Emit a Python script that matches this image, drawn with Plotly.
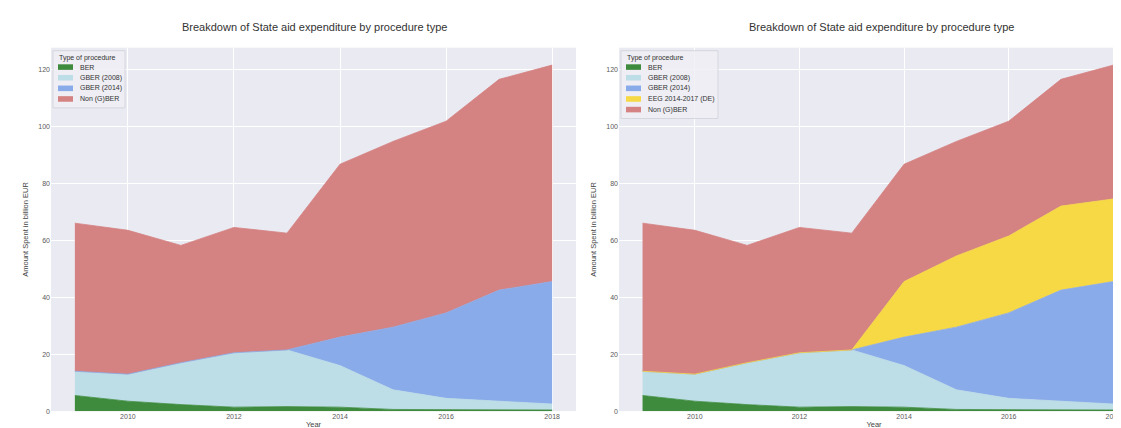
import plotly.graph_objects as go

years = [2009, 2010, 2011, 2012, 2013, 2014, 2015, 2016, 2017, 2018]
ber = [5.5, 3.5, 2.3, 1.4, 1.6, 1.4, 0.6, 0.5, 0.4, 0.4]
gber2008 = [8.5, 9.5, 14.7, 19.1, 19.9, 14.6, 6.9, 4.0, 3.1, 2.1]
gber2014 = [0, 0, 0, 0, 0, 10.0, 22.0, 30.0, 39.0, 43.0]
eeg = [0, 0, 0, 0, 0, 19.5, 25.0, 27.0, 29.5, 29.0]
total = [66.0, 63.5, 58.2, 64.5, 62.5, 86.7, 94.7, 101.8, 116.5, 121.5]

base_top = [a + b + c for a, b, c in zip(ber, gber2008, gber2014)]
non_left = [t - b for t, b in zip(total, base_top)]
non_right = [t - b - e for t, b, e in zip(total, base_top, eeg)]

legend_title = "Type of procedure"
colors = {
    "BER": "#3e8b3e",
    "GBER (2008)": "#bddde7",
    "GBER (2014)": "#8aabe9",
    "EEG 2014-2017 (DE)": "#f6d944",
    "Non (G)BER": "#d48282",
}

left_series = [("BER", ber), ("GBER (2008)", gber2008), ("GBER (2014)", gber2014), ("Non (G)BER", non_left)]
right_series = [("BER", ber), ("GBER (2008)", gber2008), ("GBER (2014)", gber2014),
                ("EEG 2014-2017 (DE)", eeg), ("Non (G)BER", non_right)]

fig = go.Figure()
for nm, vals in left_series:
    fig.add_trace(go.Scatter(x=years, y=vals, name=nm, stackgroup="left", mode="lines",
                             line=dict(color=colors[nm], width=0.8), fillcolor=colors[nm],
                             xaxis="x", yaxis="y", showlegend=False))
for nm, vals in right_series:
    fig.add_trace(go.Scatter(x=years, y=vals, name=nm, stackgroup="right", mode="lines",
                             line=dict(color=colors[nm], width=0.8), fillcolor=colors[nm],
                             xaxis="x2", yaxis="y2", showlegend=False))

W, H = 1121, 428
FONT = "Liberation Sans, Arial, sans-serif"
bg = "#eaeaf2"
tickfont = dict(family=FONT, size=7, color="#5a5a5a")
axtitlefont = dict(family=FONT, size=7.5, color="#444444")

xcommon = dict(tickvals=[2010, 2012, 2014, 2016, 2018], showgrid=True, gridcolor="white",
               gridwidth=1, zeroline=False, showline=False, ticks="", tickfont=tickfont,
               ticklabeloverflow="allow",
               title=dict(text="Year", font=axtitlefont, standoff=2))
ycommon = dict(range=[0, 127.6], tickvals=[0, 20, 40, 60, 80, 100, 120], showgrid=True,
               gridcolor="white", gridwidth=1, zeroline=False, showline=False, ticks="",
               tickfont=tickfont, title=dict(text="Amount Spent in billion EUR", font=axtitlefont, standoff=8))

ydom = [1 - 406 / H, 1 - 40 / H]
fig.update_layout(
    width=W, height=H,
    margin=dict(l=0, r=0, t=0, b=0),
    paper_bgcolor="white",
    plot_bgcolor=bg,
    showlegend=False,
    xaxis=dict(domain=[43 / W, 568 / W], range=[2008.55, 2018.45], anchor="y", **xcommon),
    yaxis=dict(domain=ydom, anchor="x", **ycommon),
    xaxis2=dict(domain=[611 / W, 1.0], range=[2008.55, 2018.3], anchor="y2", **xcommon),
    yaxis2=dict(domain=ydom, anchor="x2", **ycommon),
)

title_txt = "Breakdown of State aid expenditure by procedure type"
for xc in [306 / W, 873 / W]:
    fig.add_annotation(text=title_txt, x=xc, y=1 - 19 / H, xref="paper", yref="paper",
                       showarrow=False, xanchor="center", yanchor="middle",
                       font=dict(family=FONT, size=11, color="#333333"))


def px(x):
    return x / W


def py(y):
    return 1 - y / H


def draw_legend(series, x0, x1, y0):
    step = 10.7
    first = y0 + 16.5
    y1 = first + step * (len(series) - 1) + 9
    fig.add_shape(type="rect", xref="paper", yref="paper", x0=px(x0), x1=px(x1), y0=py(y0), y1=py(y1),
                  fillcolor="rgba(238,238,245,0.85)", line=dict(color="#d6d6de", width=1), layer="above")
    fig.add_annotation(text=legend_title, x=px(x0 + 4), y=py(y0 + 7), xref="paper", yref="paper",
                       showarrow=False, xanchor="left", yanchor="middle",
                       font=dict(family=FONT, size=7, color="#333333"))
    for i, (nm, _) in enumerate(series):
        yc = first + i * step
        fig.add_shape(type="rect", xref="paper", yref="paper", x0=px(x0 + 5), x1=px(x0 + 20),
                      y0=py(yc - 2.8), y1=py(yc + 2.8), fillcolor=colors[nm], line=dict(width=0),
                      layer="above")
        fig.add_annotation(text=nm, x=px(x0 + 25), y=py(yc), xref="paper", yref="paper",
                           showarrow=False, xanchor="left", yanchor="middle",
                           font=dict(family=FONT, size=7, color="#333333"))


draw_legend(left_series, 45, 117, 43)
draw_legend(right_series, 613, 710, 43)

fig.write_html("out.html")
